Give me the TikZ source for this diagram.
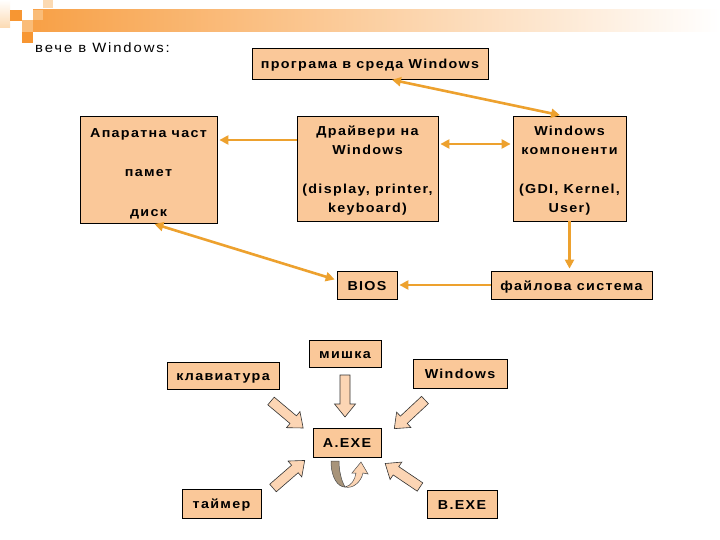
\documentclass[tikz,border=0pt]{standalone}
\usepackage{fontspec}
\setmainfont{Liberation Sans}[LetterSpace=10, FakeStretch=1.1]
\newfontfamily\titlefont{Liberation Sans}[LetterSpace=14, FakeStretch=1.1]
\usetikzlibrary{arrows.meta,backgrounds}
\definecolor{boxfill}{RGB}{250,200,153}
\definecolor{arrowc}{RGB}{237,161,46}
\definecolor{blockfill}{RGB}{252,213,180}
\definecolor{tanc}{RGB}{168,148,122}
\definecolor{sqA}{RGB}{247,150,50}
\definecolor{sqB}{RGB}{250,188,120}
\definecolor{sqC}{RGB}{252,218,178}
\begin{document}
\begin{tikzpicture}[x=1pt,y=-1pt,
  box/.style={draw=black, line width=0.8pt, fill=boxfill, inner sep=0pt},
  lbl/.style={font=\bfseries\fontsize{13}{15}\selectfont, inner sep=0pt, text height=12pt, text depth=2pt},
  conn/.style={draw=arrowc, line width=2.6pt, -{Triangle[length=9pt,width=9pt]}, shorten >=2pt},
  conn2/.style={draw=arrowc, line width=2.6pt, {Triangle[length=9pt,width=9pt]}-{Triangle[length=9pt,width=9pt]}, shorten >=2pt, shorten <=2pt},
  blockarrow/.style={draw=black!80, line width=0.6pt, fill=blockfill},
  barrow/.pic={\draw[blockarrow] (0,-5) -- (29,-5) -- (29,-10.5) -- (42,0) -- (29,10.5) -- (29,5) -- (0,5) -- cycle;}
]
\useasboundingbox (0,0) rectangle (720,540);
\fill[white] (0,0) rectangle (720,540);

% header decoration
\shade[left color=sqA!90, right color=white] (33,10) rectangle (720,32);
\shade[top color=white, bottom color=sqC] (0,0) rectangle (10,28);
\fill[sqA] (10,10) rectangle (22,21);
\fill[sqB] (22,20) rectangle (33,32);
\fill[sqA] (22,32) rectangle (33,43);
\fill[sqB] (33,10) rectangle (43,20);
\fill[sqC] (43,0) rectangle (53,8);

\node[anchor=west, inner sep=0pt, font=\titlefont\fontsize{13.5}{15}\selectfont] (title) at (35,48) {вече в Windows:};

% boxes
\node[box, lbl, minimum width=236pt, minimum height=31pt] (prog) at (370,63.5) {програма в среда Windows};
\node[box, minimum width=137pt, minimum height=107pt] (hw) at (148.5,169.5) {};
\node[box, minimum width=141pt, minimum height=105pt] (drv) at (367.5,168.5) {};
\node[box, minimum width=113pt, minimum height=105pt] (wc) at (569.5,168.5) {};
\node[box, lbl, minimum width=60pt, minimum height=28pt] (bios) at (367,285) {BIOS};
\node[box, lbl, minimum width=161pt, minimum height=28pt] (fs) at (571.5,285) {файлова система};

\node[lbl] (hw1) at (148.5,133) {Апаратна част};
\node[lbl] (hw2) at (148.5,172) {памет};
\node[lbl] (hw3) at (148.5,211) {диск};
\node[lbl] (drv1) at (367.5,131) {Драйвери на};
\node[lbl] (drv2) at (367.5,150) {Windows};
\node[lbl] (drv3) at (367.5,189) {(display, printer,};
\node[lbl] (drv4) at (367.5,208) {keyboard)};
\node[lbl] (wc1) at (569.5,131) {Windows};
\node[lbl] (wc2) at (569.5,150) {компоненти};
\node[lbl] (wc3) at (569.5,189) {(GDI, Kernel,};
\node[lbl] (wc4) at (569.5,208) {User)};

% connectors
\begin{scope}[on background layer]
\draw[conn2] (wc.west |- 0,172) -- (hw.east |- 0,172);
\end{scope}
\draw[conn] (drv.west |- 0,140) -- (hw.east |- 0,140);
\draw[conn2] (drv.east |- 0,144) -- (wc.west |- 0,144);
\draw[conn2] ([xshift=20pt]prog.south) -- ([xshift=-7.5pt]wc.north);
\draw[conn2] ([xshift=4pt]hw.south) -- ([yshift=5pt]bios.west);
\draw[conn] (wc.south) -- (wc.south |- fs.north);
\draw[conn] (fs.west) -- (bios.east);

% lower part
\node[box, lbl, minimum width=72pt, minimum height=27pt] (mouse) at (345,353.5) {мишка};
\node[box, lbl, minimum width=112pt, minimum height=27pt] (kbd) at (223,375.5) {клавиатура};
\node[box, lbl, minimum width=94pt, minimum height=29pt] (win) at (460,373.5) {Windows};
\node[box, lbl, minimum width=68pt, minimum height=29pt] (aexe) at (347,442.5) {A.EXE};
\node[box, lbl, minimum width=79pt, minimum height=29pt] (timer) at (221.5,503.5) {таймер};
\node[box, lbl, minimum width=70pt, minimum height=28pt] (bexe) at (462,504) {B.EXE};

\pic[rotate=-40] at (271,401) {barrow};
\pic[rotate=-90] at (345,375) {barrow};
\pic[rotate=-137] at (425,400) {barrow};
\pic[rotate=41] at (273,488) {barrow};
\pic[rotate=146] at (420,487) {barrow};

% curved self arrow under A.EXE
\draw[draw=black!70, line width=0.5pt, fill=tanc] (331,461) .. controls (331,478) and (338,487) .. (345,487) .. controls (341,480) and (339,470) .. (339,461) -- cycle;
\draw[draw=black!70, line width=0.5pt, fill=blockfill] (345,487) .. controls (351,486) and (355,480) .. (356,473) -- (352,473) -- (361,462) -- (368,474) -- (363,473) .. controls (361,482) and (353,489) .. (345,487) -- cycle;
\end{tikzpicture}
\end{document}
